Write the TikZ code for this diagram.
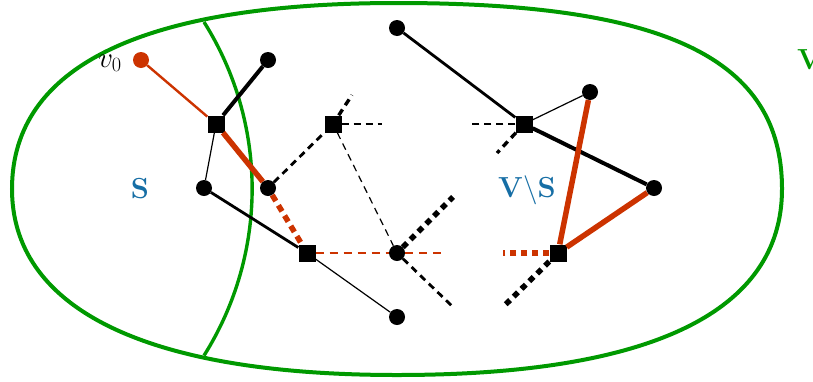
\RequirePackage{fix-cm}
\documentclass[tikz,border=0pt]{standalone}
\definecolor{setgreen}{RGB}{0,153,0}
\definecolor{treered}{RGB}{204,51,0}
\definecolor{setblue}{RGB}{22,110,165}
\begin{document}
\begin{tikzpicture}[x=1pt,y=-1pt,
  dot/.style={circle,fill=black,inner sep=0pt,minimum size=16pt},
  rootdot/.style={dot,fill=treered},
  sq/.style={rectangle,fill=black,inner sep=0pt,minimum size=17pt},
  lbl/.style={inner sep=0pt,font=\fontsize{29}{34}\selectfont},
  setline/.style={setgreen,line width=4pt},
  thinedge/.style={black,line width=1.2pt},
  midedge/.style={black,line width=2.8pt},
  boldedge/.style={black,line width=4pt},
  rededge/.style={treered,line width=5.5pt},
  thinred/.style={treered,line width=2.4pt},
  dshort/.style={dash pattern=on 7pt off 5pt},
  dsq/.style={dash pattern=on 6pt off 5pt}]
\useasboundingbox (0,0) rectangle (813,381);
\clip (0,0) rectangle (813,381);

% the vertex set V
\draw[setline] (782,189) .. controls (782,59) and (667,3) .. (397,3)
  .. controls (143,3) and (12,66) .. (12,189)
  .. controls (12,304) and (136,375) .. (397,375)
  .. controls (651,375) and (782,312) .. (782,189) -- cycle;
% the cut separating S from V\S
\draw[setline,line width=3.4pt] (204,22) arc[start angle=-32.2,end angle=32.2,radius=313];

% vertices
\node[rootdot] (v0) at (141,60) {};
\node[sq]  (A) at (216,124) {};
\node[dot] (B) at (268,60) {};
\node[dot] (C) at (204,188) {};
\node[dot] (D) at (268,188) {};
\node[sq]  (E) at (307,253) {};
\node[dot] (F) at (397,317) {};
\node[sq]  (G) at (333,124) {};
\node[dot] (H) at (397,253) {};
\node[dot] (I) at (397,28) {};
\node[sq]  (J) at (524,124) {};
\node[dot] (K) at (590,92) {};
\node[dot] (L) at (654,188) {};
\node[sq]  (M) at (558,253) {};

% loose ends of partially shown edges
\coordinate (g1) at (352,95);
\coordinate (g2) at (382,124);
\coordinate (h1) at (453,197);
\coordinate (h2) at (446,253);
\coordinate (h3) at (453,307);
\coordinate (j1) at (470,124);
\coordinate (j2) at (497,153);
\coordinate (m1) at (503,253);
\coordinate (m2) at (503,307);

% edges
\draw[thinred] (v0) -- (A);
\draw[boldedge] (A) -- (B);
\draw[thinedge] (A) -- (C);
\draw[rededge] (A) -- (D);
\draw[midedge] (C) -- (E);
\draw[rededge,dshort] (D) -- (E);
\draw[midedge,dshort] (D) -- (G);
\draw[black,line width=3.4pt,dshort] (G) -- (g1);
\draw[midedge,dshort] (G) -- (g2);
\draw[thinedge,dshort] (G) -- (H);
\draw[treered,line width=2.8pt,dash pattern=on 8pt off 6pt] (E) -- (H) -- (h2);
\draw[thinedge] (E) -- (F);
\draw[black,line width=5.5pt,dsq] (H) -- (h1);
\draw[midedge,dshort] (H) -- (h3);
\draw[midedge] (I) -- (J);
\draw[thinedge] (J) -- (K);
\draw[boldedge] (J) -- (L);
\draw[thinedge,dshort] (J) -- (j1);
\draw[black,line width=3.4pt,dshort] (J) -- (j2);
\draw[rededge] (K) -- (M);
\draw[rededge] (L) -- (M);
\draw[rededge,dsq] (M) -- (m1);
\draw[black,line width=5.5pt,dsq] (M) -- (m2);

% labels
\node[lbl,anchor=base east] (v0lbl) at (122,67) {$v_0$};
\node[lbl,text=setblue] (Slbl) at (140,189) {$\mathbf{S}$};
\node[lbl,text=setblue,anchor=base] (VSlbl) at (527,197) {$\mathbf{V}\backslash\mathbf{S}$};
\node[lbl,text=setgreen,anchor=west] (Vlbl) at (797,60) {$\mathbf{V}$};
\end{tikzpicture}
\end{document}
